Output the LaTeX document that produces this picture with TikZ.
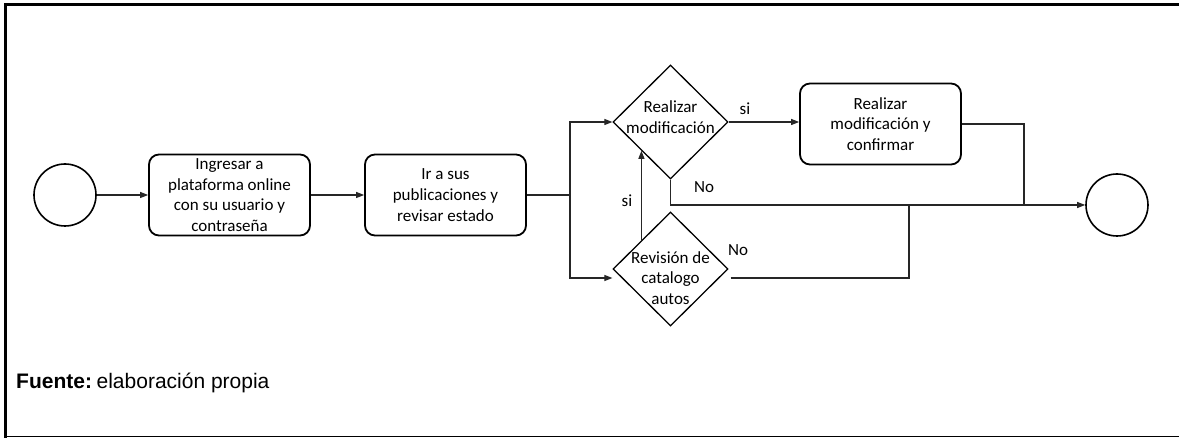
\documentclass[tikz,border=0pt]{standalone}
\usepackage{fontspec}
\setmainfont{Carlito}
\newfontfamily\arialfont{Liberation Sans}
\usetikzlibrary{shapes.geometric,arrows.meta,calc}
\begin{document}
\begin{tikzpicture}[x=1pt,y=-1pt,
  every node/.style={font=\fontsize{17}{20.7}\selectfont, text=black},
  taskbox/.style={draw, line width=1.8pt, rounded corners=10pt, minimum width=161pt, minimum height=81pt, align=center, inner sep=0pt},
  evcircle/.style={draw, line width=1.6pt, circle, minimum size=62pt, inner sep=0pt},
  gate/.style={draw, line width=1.3pt, diamond, minimum width=115pt, minimum height=114pt, inner sep=0pt},
  conn/.style={line width=1.1pt, draw=black!85},
  arr/.style={conn, -{Triangle[length=8pt,width=6pt]}},
  lbl/.style={inner sep=0pt}
]
\useasboundingbox (0,0) rectangle (1179,438);
% frame
\draw[line width=3pt] (4,5) -- (1179,5);
\draw[line width=2.6pt] (5.5,4) -- (5.5,438);
\draw[line width=1pt] (5,437) -- (1179,437);

% nodes
\node[evcircle] (s) at (65,195) {};
\node[taskbox] (b1) at (229.5,195) {Ingresar a\\plataforma online\\con su usuario y\\contraseña};
\node[taskbox] (b2) at (445.5,195) {Ir a sus\\publicaciones y\\revisar estado};
\node[gate] (d1) at (670.5,122) {};
\node[lbl, align=center] (t1) at (670.5,117) {Realizar\\modificación};
\node[gate] (d2) at (670.5,269) {};
\node[lbl, align=center] (t2) at (670.5,278) {Revisión de\\catalogo\\autos};
\node[taskbox] (b3) at (880.5,124) {Realizar\\modificación y\\confirmar};
\node[evcircle] (e) at (1117,205) {};

% coordinates
\coordinate (split) at (570,195);
\coordinate (d2in) at ([yshift=-9pt]d2.west);
\coordinate (d2out) at ([yshift=-9pt,xshift=2pt]d2.east);
\coordinate (j1) at (1024,205);
\coordinate (j2) at (909,205);

% connectors
\draw[arr] (s) -- (b1);
\draw[arr] (b1) -- (b2);
\draw[conn] (b2.east) -- (split);
\draw[arr] (split) |- (d1.west);
\draw[arr] (split) |- (d2in);
\draw[arr] (d1.east) -- (b3.west |- d1.east);
\draw[conn] (b3.east) -| (j1);
\draw[arr] (d1.south) |- (e.west);
\draw[conn] (d2out) -| (j2);
\draw[arr] (d2.north west) -- (d1.south west);

% labels
\node[lbl] (l1) at (745,109) {si};
\node[lbl] (l2) at (704,187) {No};
\node[lbl] (l3) at (627,201) {si};
\node[lbl] (l4) at (738,250) {No};

\node[lbl, anchor=west, font=\arialfont\fontsize{21}{23}\selectfont, text=black] (src) at (16,383) {\textbf{Fuente:}\hspace{0.22em}elaboración propia};
\end{tikzpicture}
\end{document}
